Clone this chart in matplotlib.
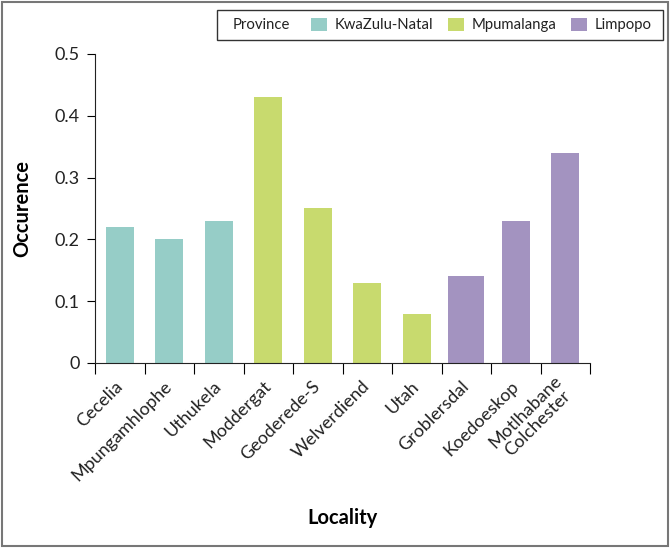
import matplotlib
matplotlib.use("Agg")
import matplotlib.pyplot as plt
from matplotlib.patches import Patch, Rectangle

localities = ["Cecelia", "Mpungamhlophe", "Uthukela", "Moddergat", "Geoderede-S",
              "Welverdiend", "Utah", "Groblersdal", "Koedoeskop", "Motlhabane\nColchester"]
occurence = [0.22, 0.20, 0.23, 0.43, 0.25, 0.13, 0.08, 0.14, 0.23, 0.34]
provinces = ["KwaZulu-Natal"] * 3 + ["Mpumalanga"] * 4 + ["Limpopo"] * 3
province_order = ["KwaZulu-Natal", "Mpumalanga", "Limpopo"]
colors = {"KwaZulu-Natal": "#96CDC7", "Mpumalanga": "#C8DA6E", "Limpopo": "#A393C0"}
yticks = [0, 0.1, 0.2, 0.3, 0.4, 0.5]
ytick_labels = ["0", "0.1", "0.2", "0.3", "0.4", "0.5"]

plt.rcParams['font.family'] = ['Lato', 'DejaVu Sans']

W, H = 670, 548
fig = plt.figure(figsize=(6.7, 5.48), dpi=100)
ax = fig.add_axes([0.1418, 0.3376, 0.8806 - 0.1418, 0.9015 - 0.3376])

x = list(range(len(localities)))
widths = [0.56] * len(localities)
widths[7] = 0.72
ax.bar(x, occurence, width=widths, color=[colors[p] for p in provinces])

ax.set_xlim(-0.5, len(localities) - 0.5)
ax.set_ylim(0, 0.5)
ax.set_yticks(yticks)
ax.set_yticklabels(ytick_labels, fontsize=13, color="#222222")
ax.set_xticks([i - 0.5 for i in range(len(localities) + 1)])
ax.set_xticklabels([])
ax.set_xticks(x, minor=True)
ax.set_xticklabels(localities, minor=True, rotation=45, ha="right", va="center",
                   rotation_mode="anchor", fontsize=13, multialignment="center",
                   color="#222222", linespacing=1.1)
ax.tick_params(axis="x", which="major", length=8, direction="out")
ax.tick_params(axis="x", which="minor", length=0, pad=15)
ax.tick_params(axis="y", length=6, direction="out", pad=5)
for s in ["top", "right"]:
    ax.spines[s].set_visible(False)
ax.spines["bottom"].set_color("#222222")
ax.spines["left"].set_color("#222222")

ax.set_ylabel("Occurence", fontsize=14.5, fontweight="bold", labelpad=16)
fig.text(0.5 * (0.1418 + 0.8806), 1 - 518 / H, "Locality", fontsize=14.5,
         fontweight="bold", ha="center", va="center")

# legend box with inline "Province" title
fig.patches.append(Rectangle((217 / W, 1 - 40 / H), (663 - 217) / W, 30 / H,
                             transform=fig.transFigure, fill=False,
                             edgecolor="#333333", linewidth=1.0))
fig.text(233 / W, 1 - 25 / H, "Province", fontsize=10.7, ha="left", va="center",
         color="#222222")
handles = [Patch(facecolor=colors[p], edgecolor="none") for p in province_order]
leg = fig.legend(handles, province_order, ncol=3, loc="center right",
                 bbox_to_anchor=(652 / W, 1 - 25 / H), frameon=False,
                 fontsize=10.7, handlelength=1.07, handleheight=1.0,
                 columnspacing=0.95, handletextpad=0.55, borderpad=0,
                 borderaxespad=0)
for t in leg.get_texts():
    t.set_color("#222222")

fig.patches.append(Rectangle((0.003, 0.003), 0.994, 0.994, transform=fig.transFigure,
                             fill=False, edgecolor="#777777", linewidth=1.5))

fig.savefig("out.png", dpi=100)
